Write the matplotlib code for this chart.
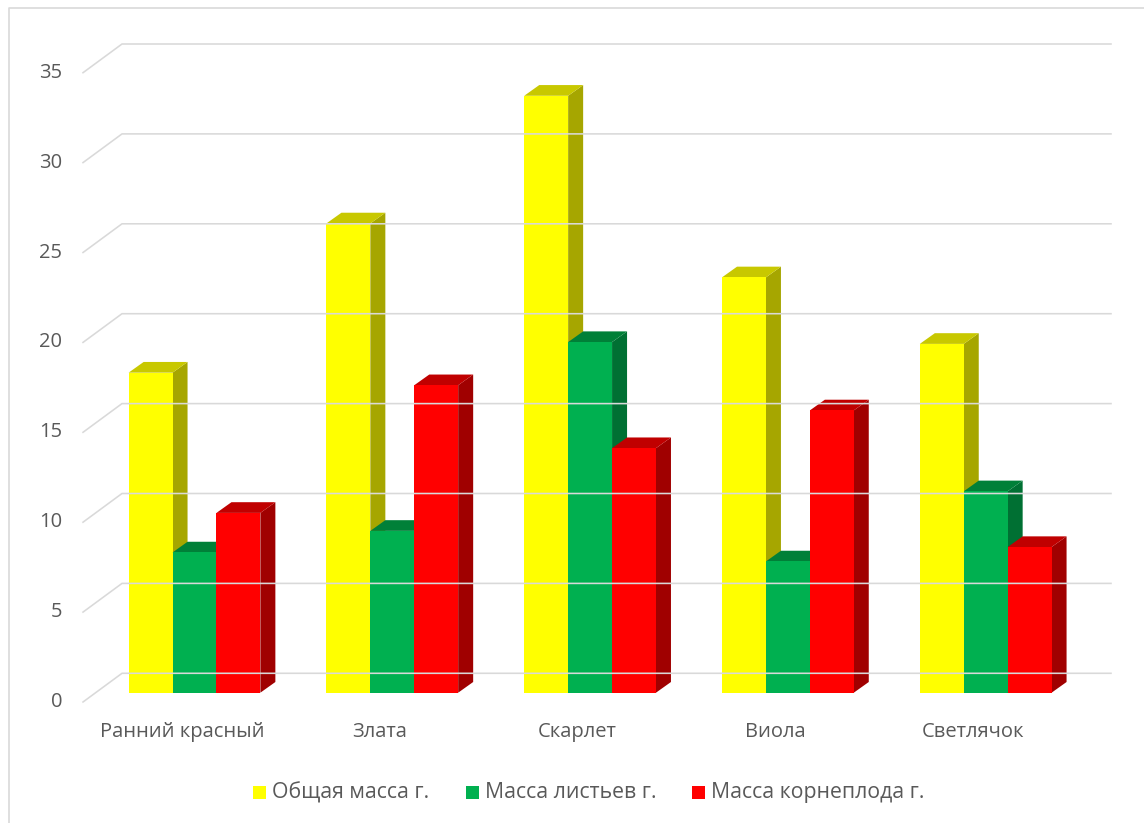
import matplotlib
matplotlib.use("Agg")
import matplotlib.pyplot as plt
from matplotlib.patches import Polygon, Rectangle
from matplotlib.lines import Line2D
from matplotlib.transforms import IdentityTransform
import numpy as np

# --- data -------------------------------------------------------------
categories = ["Ранний красный", "Злата", "Скарлет", "Виола", "Светлячок"]
series_names = ["Общая масса г.", "Масса листьев г.", "Масса корнеплода г."]
total_mass = [17.8, 26.1, 33.2, 23.1, 19.4]
leaf_mass = [7.8, 9.0, 19.5, 7.3, 11.2]
root_mass = [10.0, 17.1, 13.6, 15.7, 8.1]
y_ticks = [0, 5, 10, 15, 20, 25, 30, 35]

# --- styling ----------------------------------------------------------
front_colors = ["#FFFF00", "#00B050", "#FF0000"]
top_colors = ["#C8C800", "#008038", "#C00000"]
side_colors = ["#A6A600", "#007033", "#A00000"]
text_color = "#595959"
grid_color = "#D9D9D9"
font = "Open Sans"

W, H = 1144, 823
fig = plt.figure(figsize=(W / 100, H / 100), dpi=100)
fig.patch.set_facecolor("white")

# axes placed so that its plane is the plane of the bar front faces
ax = fig.add_axes([95.6 / W, 1 - 692.7 / H, 989.0 / W, 629.3 / H])
ax.set_xlim(-0.5, len(categories) - 0.5)
ax.set_ylim(0, 35)
ax.axis("off")

# pseudo-3D depth offsets in display pixels (x right, y up)
FRONT = np.array([-12.6, -9.3])   # axis-label plane
BACK = np.array([26.4, 19.4])     # back wall
DEPTH = np.array([15.0, 10.7])    # depth of a bar

def disp(x, y, off=(0.0, 0.0)):
    p = ax.transData.transform((x, y))
    return p + np.asarray(off)

ident = IdentityTransform()

# gridlines: short diagonal on the floor side, then across the back wall
x_lo, x_hi = ax.get_xlim()
for v in y_ticks:
    p0 = disp(x_lo, v, FRONT)
    p1 = disp(x_lo, v, BACK)
    p2 = disp(x_hi, v, BACK)
    fig.add_artist(Line2D([p0[0], p1[0], p2[0]], [p0[1], p1[1], p2[1]],
                          transform=ident, color=grid_color, lw=1.15,
                          zorder=1))
    ax.text(*ax.transAxes.inverted().transform(p0 + np.array([-21, 0])), f"{v}",
            transform=ax.transAxes, ha="right", va="center",
            fontsize=14.5, family=font, color=text_color)

# bars
values = [total_mass, leaf_mass, root_mass]
bar_w = 0.222
x = np.arange(len(categories))
for s, vals in enumerate(values):
    xc = x + (s - 1) * bar_w
    z = 2 + 2 * s
    for xi, v in zip(xc, vals):
        x0, x1 = xi - bar_w / 2, xi + bar_w / 2
        side = [disp(x1, 0), disp(x1, 0, DEPTH), disp(x1, v, DEPTH), disp(x1, v)]
        top = [disp(x0, v), disp(x1, v), disp(x1, v, DEPTH), disp(x0, v, DEPTH)]
        ax.add_patch(Polygon(side, closed=True, transform=ident,
                             facecolor=side_colors[s], edgecolor="none",
                             clip_on=False, zorder=z))
        ax.add_patch(Polygon(top, closed=True, transform=ident,
                             facecolor=top_colors[s], edgecolor="none",
                             clip_on=False, zorder=z))
    ax.bar(xc, vals, width=bar_w, color=front_colors[s], edgecolor="none",
           zorder=z + 1, clip_on=False, label=series_names[s])

# category labels in the front plane
for i, name in enumerate(categories):
    p = disp(i, 0, FRONT) + np.array([0, -30])
    fig.text(p[0] / W, p[1] / H, name, ha="center", va="center",
             fontsize=14.5, family=font, color=text_color)

# legend
legend_y = 1 - 792.5 / H
entries_x = [252.5, 465.5, 691.5]
for s, name in enumerate(series_names):
    px = entries_x[s]
    fig.add_artist(Rectangle((px / W, legend_y - 6.5 / H), 13 / W, 13 / H,
                             transform=fig.transFigure,
                             facecolor=front_colors[s], edgecolor="none"))
    fig.text((px + 19.5) / W, legend_y, name, ha="left", va="center",
             fontsize=15.3, family=font, color=text_color)

# chart border (left and top edges)
fig.add_artist(Line2D([8.5 / W, 8.5 / W, 1.0], [0.0, 1 - 7.5 / H, 1 - 7.5 / H],
                      transform=fig.transFigure, color=grid_color, lw=1.2))

fig.savefig("out.png", dpi=100)
